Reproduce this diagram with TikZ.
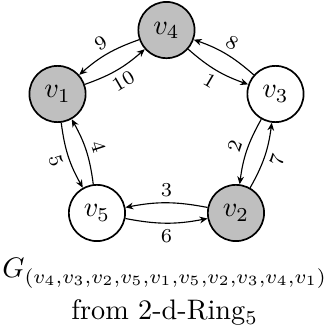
\documentclass[tikz,border=0pt]{standalone}
\usepackage{tkz-euclide}
\usetikzlibrary{arrows.meta}

\begin{document}
\begin{tikzpicture}[
            vertex/.style={circle,draw,semithick,minimum size=0.70cm,inner sep=0pt},
            visited/.style={vertex,fill=black!25},
            arc/.style={-{Stealth[length=2.8pt,width=2.4pt]},bend right=11},
            num/.style={font=\scriptsize,sloped,inner sep=2pt}]
            \useasboundingbox (0,0) rectangle (4.045,4.120);
            \tkzDefPoint(2.072,3.746){P4}
            \tkzDefPoint(0.716,2.950){P1}
            \tkzDefPoint(3.429,2.950){P3}
            \tkzDefPoint(1.207,1.469){P5}
            \tkzDefPoint(2.937,1.469){P2}
            \node[visited] (v4) at (P4) {$v_4$};
            \node[visited] (v1) at (P1) {$v_1$};
            \node[vertex] (v3) at (P3) {$v_3$};
            \node[vertex] (v5) at (P5) {$v_5$};
            \node[visited] (v2) at (P2) {$v_2$};
            \draw[arc] (v4) to node[num,below] {1} (v3);
            \draw[arc] (v3) to node[num,above] {2} (v2);
            \draw[arc] (v2) to node[num,above] {3} (v5);
            \draw[arc] (v5) to node[num,above] {4} (v1);
            \draw[arc] (v1) to node[num,below] {5} (v5);
            \draw[arc] (v5) to node[num,below] {6} (v2);
            \draw[arc] (v2) to node[num,below] {7} (v3);
            \draw[arc] (v3) to node[num,above] {8} (v4);
            \draw[arc] (v4) to node[num,above] {9} (v1);
            \draw[arc] (v1) to node[num,below] {10} (v4);
            \node[anchor=base] (walk) at (2.050,0.660) {$G_{(v_4,v_3,v_2,v_5,v_1,v_5,v_2,v_3,v_4,v_1)}$};
            \node[anchor=base] (src) at (2.050,0.137) {from 2-d-Ring$_5$};
        \end{tikzpicture}
\end{document}
